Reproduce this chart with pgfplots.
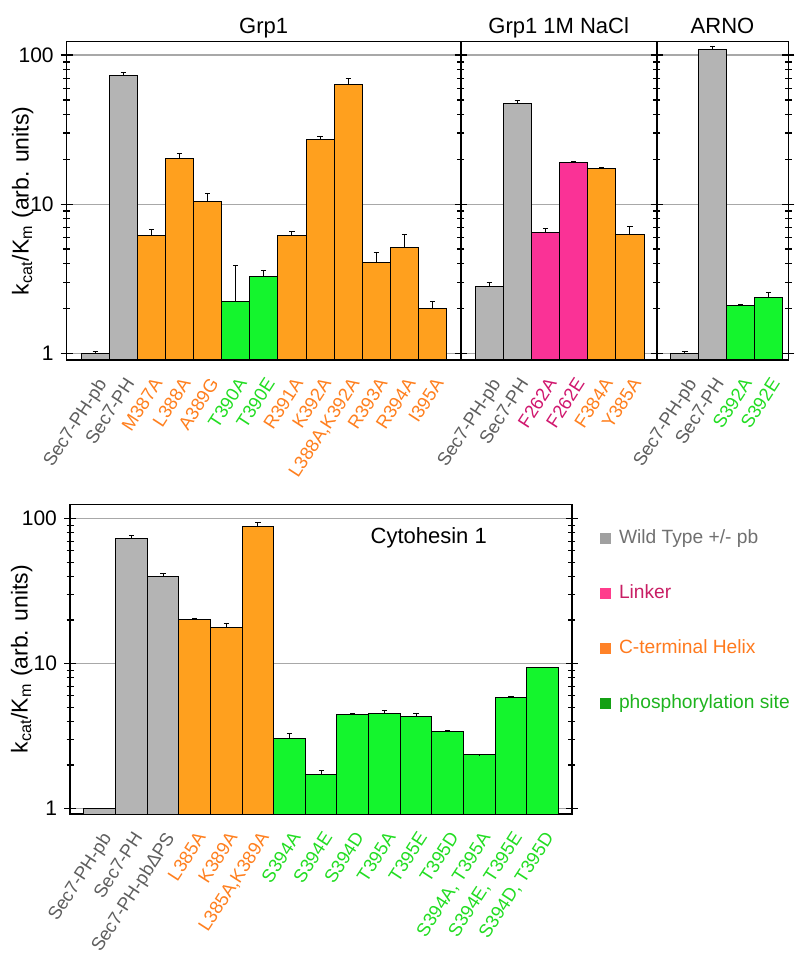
\documentclass[border=0pt]{standalone}
\usepackage{fontspec}
\setmainfont{Liberation Sans}
\usepackage{pgfplots}
\pgfplotsset{compat=1.18}

\definecolor{bgray}{HTML}{B4B4B4}
\definecolor{borange}{HTML}{FFA01E}
\definecolor{bgreen}{HTML}{14F52D}
\definecolor{bpink}{HTML}{FA3296}
\definecolor{lgray}{HTML}{5E5E5E}
\definecolor{lorange}{HTML}{FF7F1E}
\definecolor{lgreen}{HTML}{22DD22}
\definecolor{lpink}{HTML}{D0176E}
\definecolor{gridc}{HTML}{A8A8A8}
\definecolor{sqgray}{HTML}{A0A0A0}
\definecolor{sqpink}{HTML}{FF3C8C}
\definecolor{sqorange}{HTML}{FF8228}
\definecolor{sqgreen}{HTML}{14A014}

\newcommand{\G}[1]{\textcolor{lgray}{#1}}
\newcommand{\Or}[1]{\textcolor{lorange}{#1}}
\newcommand{\Gr}[1]{\textcolor{lgreen}{#1}}
\newcommand{\Pk}[1]{\textcolor{lpink}{#1}}

\pgfplotsset{
  every axis/.append style={
    scale only axis,
    axis line style={line width=0.8pt},
    tick align=center, major tick length=6pt, minor tick length=3.5pt,
    yticklabel style={font=\fontsize{10.5}{12}\selectfont},
    xticklabel style={rotate=57, anchor=north east,
      font=\fontsize{9.2}{11}\selectfont, inner sep=1.5pt},
    ylabel style={font=\fontsize{11.5}{13}\selectfont, anchor=center},
    grid style={gridc, line width=0.6pt},
    every x tick/.style={draw=none},
    every y tick/.style={black, line width=0.6pt},
  },
  every axis title/.style={at={(0.5,1)}, anchor=base, yshift=4.3pt,
    font=\fontsize{11}{13}\selectfont},
}

\begin{document}
\begin{tikzpicture}
% Grp1
\begin{axis}[anchor=south west, at={(33.35pt,297pt)}, width=197pt, height=159.15pt,
    ymode=log, log origin=infty, ymajorgrids,
    ytick={1,10,100}, log ticks with fixed point,
    /pgf/number format/assume math mode=true,
    ybar, bar width=1, bar shift=0pt,
    xmin=-1.01, xmax=13.0, ymin=0.902, ymax=123,
    title={Grp1},
    ylabel={k\textsubscript{cat}/K\textsubscript{m} (arb. units)},
    ylabel style={at={(axis description cs:-0.112,0.5)}},
    xtick={0,...,12},
    xticklabels={{\G{Sec7-PH-pb}},{\G{Sec7-PH}},{\Or{M387A}},{\Or{L388A}},{\Or{A389G}},
      {\Gr{T390A}},{\Gr{T390E}},{\Or{R391A}},{\Or{K392A}},{\Or{L388A,K392A}},
      {\Or{R393A}},{\Or{R394A}},{\Or{I395A}}}]
\addplot[fill=bgray, draw=black, line width=0.5pt, error bars/.cd, y dir=plus, y explicit,
  error bar style={black, line width=0.5pt},
  error mark options={black, rotate=90, mark size=1.3pt, line width=0.5pt}]
  coordinates {(0,1.0) +- (0,0.03) (1,72.6) +- (0,4.3)};
\addplot[fill=borange, draw=black, line width=0.5pt, error bars/.cd, y dir=plus, y explicit,
  error bar style={black, line width=0.5pt},
  error mark options={black, rotate=90, mark size=1.3pt, line width=0.5pt}]
  coordinates {(2,6.13) +- (0,0.63) (3,20.4) +- (0,1.4) (4,10.4) +- (0,1.4)};
\addplot[fill=bgreen, draw=black, line width=0.5pt, error bars/.cd, y dir=plus, y explicit,
  error bar style={black, line width=0.5pt},
  error mark options={black, rotate=90, mark size=1.3pt, line width=0.5pt}]
  coordinates {(5,2.21) +- (0,1.70) (6,3.29) +- (0,0.29)};
\addplot[fill=borange, draw=black, line width=0.5pt, error bars/.cd, y dir=plus, y explicit,
  error bar style={black, line width=0.5pt},
  error mark options={black, rotate=90, mark size=1.3pt, line width=0.5pt}]
  coordinates {(7,6.19) +- (0,0.40) (8,27.3) +- (0,1.3) (9,63.2) +- (0,6.9)
  (10,4.04) +- (0,0.72) (11,5.15) +- (0,1.07) (12,1.99) +- (0,0.22)};
\end{axis}
% Grp1 1M NaCl
\begin{axis}[anchor=south west, at={(230.35pt,297pt)}, width=98pt, height=159.15pt,
    ymode=log, log origin=infty, ymajorgrids,
    ytick={1,10,100}, yticklabels={},
    ybar, bar width=1, bar shift=0pt,
    xmin=-1.01, xmax=5.95, ymin=0.902, ymax=123,
    title={Grp1 1M NaCl},
    xtick={0,...,5},
    xticklabels={{\G{Sec7-PH-pb}},{\G{Sec7-PH}},{\Pk{F262A}},{\Pk{F262E}},
      {\Or{F384A}},{\Or{Y385A}}}]
\addplot[fill=bgray, draw=black, line width=0.5pt, error bars/.cd, y dir=plus, y explicit,
  error bar style={black, line width=0.5pt},
  error mark options={black, rotate=90, mark size=1.3pt, line width=0.5pt}]
  coordinates {(0,2.79) +- (0,0.20) (1,47.6) +- (0,2.0)};
\addplot[fill=bpink, draw=black, line width=0.5pt, error bars/.cd, y dir=plus, y explicit,
  error bar style={black, line width=0.5pt},
  error mark options={black, rotate=90, mark size=1.3pt, line width=0.5pt}]
  coordinates {(2,6.42) +- (0,0.41) (3,19.1) +- (0,0.2)};
\addplot[fill=borange, draw=black, line width=0.5pt, error bars/.cd, y dir=plus, y explicit,
  error bar style={black, line width=0.5pt},
  error mark options={black, rotate=90, mark size=1.3pt, line width=0.5pt}]
  coordinates {(4,17.3) +- (0,0.4) (5,6.29) +- (0,0.79)};
\end{axis}
% ARNO
\begin{axis}[anchor=south west, at={(328.35pt,297pt)}, width=65.8pt, height=159.15pt,
    ymode=log, log origin=infty, ymajorgrids,
    ytick={1,10,100}, yticklabels={},
    ybar, bar width=1, bar shift=0pt,
    xmin=-1.01, xmax=3.7, ymin=0.902, ymax=123,
    title={ARNO},
    xtick={0,...,3},
    xticklabels={{\G{Sec7-PH-pb}},{\G{Sec7-PH}},{\Gr{S392A}},{\Gr{S392E}}}]
\addplot[fill=bgray, draw=black, line width=0.5pt, error bars/.cd, y dir=plus, y explicit,
  error bar style={black, line width=0.5pt},
  error mark options={black, rotate=90, mark size=1.3pt, line width=0.5pt}]
  coordinates {(0,1.0) +- (0,0.036) (1,109.7) +- (0,5.2)};
\addplot[fill=bgreen, draw=black, line width=0.5pt, error bars/.cd, y dir=plus, y explicit,
  error bar style={black, line width=0.5pt},
  error mark options={black, rotate=90, mark size=1.3pt, line width=0.5pt}]
  coordinates {(2,2.10) +- (0,0.03) (3,2.36) +- (0,0.18)};
\end{axis}
% Cytohesin 1
\begin{axis}[anchor=south west, at={(35pt,70pt)}, width=250.85pt, height=154.85pt,
    ymode=log, log origin=infty, ymajorgrids,
    ytick={1,10,100}, log ticks with fixed point,
    /pgf/number format/assume math mode=true,
    ybar, bar width=1, bar shift=0pt,
    xmin=-0.94, xmax=14.92, ymin=0.919, ymax=125.7,
    ylabel={k\textsubscript{cat}/K\textsubscript{m} (arb. units)},
    ylabel style={at={(axis description cs:-0.0963,0.5)}},
    xtick={0,...,14},
    xticklabels={{\G{Sec7-PH-pb}},{\G{Sec7-PH}},{\G{Sec7-PH-pbΔPS}},{\Or{L385A}},{\Or{K389A}},
      {\Or{L385A,K389A}},{\Gr{S394A}},{\Gr{S394E}},{\Gr{S394D}},{\Gr{T395A}},{\Gr{T395E}},
      {\Gr{T395D}},{\Gr{S394A, T395A}},{\Gr{S394E, T395E}},{\Gr{S394D, T395D}}},
    legend style={at={(1,1)}, anchor=north west, xshift=14.15pt, yshift=-12.5pt,
      draw=none, fill=none, inner sep=0pt, row sep=18.5pt,
      font=\fontsize{9.6}{11}\selectfont,
      nodes={inner sep=0pt, text height=7pt, text depth=2pt},
      /tikz/every odd column/.append style={column sep=3.8pt}},
    legend cell align=left,
    legend image code/.code={\fill[#1] (0pt,-2.75pt) rectangle (5.5pt,2.75pt);}]
\addlegendimage{fill=sqgray, draw=none}
\addlegendentry{\textcolor[HTML]{707070}{Wild Type +/- pb}}
\addlegendimage{fill=sqpink, draw=none}
\addlegendentry{\textcolor[HTML]{C81E64}{Linker}}
\addlegendimage{fill=sqorange, draw=none}
\addlegendentry{\textcolor[HTML]{FF7A1E}{C-terminal Helix}}
\addlegendimage{fill=sqgreen, draw=none}
\addlegendentry{\textcolor[HTML]{1EB41E}{phosphorylation site}}
\addplot[fill=bgray, draw=black, line width=0.5pt, forget plot, error bars/.cd, y dir=plus, y explicit,
  error bar style={black, line width=0.5pt},
  error mark options={black, rotate=90, mark size=1.3pt, line width=0.5pt}]
  coordinates {(0,1.0) +- (0,0.01) (1,72.8) +- (0,4.4) (2,39.8) +- (0,2.4)};
\addplot[fill=borange, draw=black, line width=0.5pt, forget plot, error bars/.cd, y dir=plus, y explicit,
  error bar style={black, line width=0.5pt},
  error mark options={black, rotate=90, mark size=1.3pt, line width=0.5pt}]
  coordinates {(3,20.2) +- (0,0.3) (4,17.7) +- (0,1.2) (5,88.7) +- (0,5.1)};
\addplot[fill=bgreen, draw=black, line width=0.5pt, forget plot, error bars/.cd, y dir=plus, y explicit,
  error bar style={black, line width=0.5pt},
  error mark options={black, rotate=90, mark size=1.3pt, line width=0.5pt}]
  coordinates {(6,3.06) +- (0,0.25) (7,1.73) +- (0,0.11) (8,4.48) +- (0,0.03)
  (9,4.57) +- (0,0.20) (10,4.31) +- (0,0.24) (11,3.42) +- (0,0.02)
  (12,2.35) +- (0,0.01) (13,5.83) +- (0,0.11) (14,9.39) +- (0,0)};
\node[font=\fontsize{11}{13}\selectfont] at (axis cs:10.4,73.6) {Cytohesin 1};
\end{axis}
\pgfresetboundingbox
\useasboundingbox (0,0) rectangle (400pt,477pt);
\end{tikzpicture}
\end{document}
